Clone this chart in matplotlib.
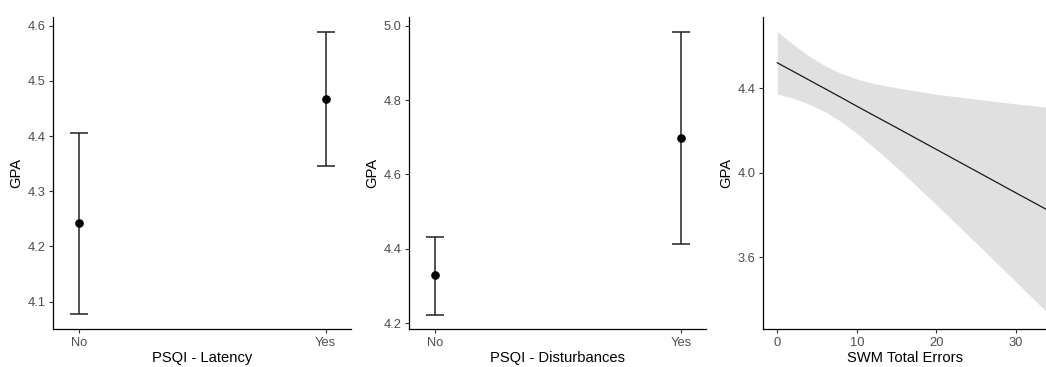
import matplotlib.pyplot as plt

plt.rcParams['font.family'] = ['Liberation Sans', 'DejaVu Sans']

groups = ['No', 'Yes']

# PSQI - Latency: mean and CI bounds
lat_mean = [4.242, 4.467]
lat_low = [4.077, 4.345]
lat_high = [4.405, 4.589]

# PSQI - Disturbances
dist_mean = [4.330, 4.699]
dist_low = [4.223, 4.413]
dist_high = [4.431, 4.984]

# SWM Total Errors: fitted line and confidence band
swm_x = [0, 2, 4, 6, 8, 10, 12, 15, 20, 25, 30, 34]
swm_fit = [4.521, 4.480, 4.439, 4.398, 4.357, 4.315, 4.274, 4.213, 4.110, 4.007, 3.904, 3.822]
swm_upper = [4.669, 4.608, 4.553, 4.507, 4.471, 4.444, 4.424, 4.402, 4.372, 4.348, 4.326, 4.310]
swm_lower = [4.373, 4.353, 4.325, 4.289, 4.243, 4.186, 4.124, 4.025, 3.848, 3.666, 3.482, 3.334]

TICK_COLOR = '#4D4D4D'


def style_axes(ax):
    for side in ['top', 'right']:
        ax.spines[side].set_visible(False)
    for side in ['left', 'bottom']:
        ax.spines[side].set_color('black')
        ax.spines[side].set_linewidth(0.9)
    ax.tick_params(axis='both', length=3, width=0.8, color='#333333',
                   labelcolor=TICK_COLOR, labelsize=9.3, pad=2.5)


def draw_errorbars(ax, mean, low, high, xlabel, ylim, yticks):
    pos = [1, 2]
    yerr = [[m - l for m, l in zip(mean, low)], [h - m for m, h in zip(mean, high)]]
    ax.errorbar(pos, mean, yerr=yerr, fmt='o', color='black', ecolor='#222222',
                elinewidth=1.1, capsize=6.8, capthick=1.1, markersize=5.2)
    ax.set_xlim(0.895, 2.103)
    ax.set_ylim(*ylim)
    ax.set_xticks(pos)
    ax.set_xticklabels(groups)
    ax.set_yticks(yticks)
    ax.set_xlabel(xlabel, fontsize=10.6, labelpad=2)
    ax.set_ylabel('GPA', fontsize=10.6, labelpad=3)
    style_axes(ax)


fig = plt.figure(figsize=(10.46, 3.67), dpi=100)
bottom, top = 0.1035, 0.9537
ax1 = fig.add_axes([0.051, bottom, 0.3356 - 0.051, top - bottom])
ax2 = fig.add_axes([0.3913, bottom, 0.675 - 0.3913, top - bottom])
ax3 = fig.add_axes([0.7297, bottom, 1.0 - 0.7297, top - bottom])

draw_errorbars(ax1, lat_mean, lat_low, lat_high, 'PSQI - Latency',
               (4.0505, 4.6158), [4.1, 4.2, 4.3, 4.4, 4.5, 4.6])
ax1.set_yticklabels(['4.1', '4.2', '4.3', '4.4', '4.5', '4.6'])

draw_errorbars(ax2, dist_mean, dist_low, dist_high, 'PSQI - Disturbances',
               (4.184, 5.024), [4.2, 4.4, 4.6, 4.8, 5.0])
ax2.set_yticklabels(['4.2', '4.4', '4.6', '4.8', '5.0'])

ax3.fill_between(swm_x, swm_lower, swm_upper, color='#E0E0E0', linewidth=0)
ax3.plot(swm_x, swm_fit, color='#1A1A1A', linewidth=0.9)
ax3.set_xlim(-1.76, 33.76)
ax3.set_ylim(3.259, 4.738)
ax3.set_xticks([0, 10, 20, 30])
ax3.set_yticks([3.6, 4.0, 4.4])
ax3.set_yticklabels(['3.6', '4.0', '4.4'])
ax3.set_xlabel('SWM Total Errors', fontsize=10.6, labelpad=2)
ax3.set_ylabel('GPA', fontsize=10.6, labelpad=3)
style_axes(ax3)

fig.savefig('out.png', dpi=100)
